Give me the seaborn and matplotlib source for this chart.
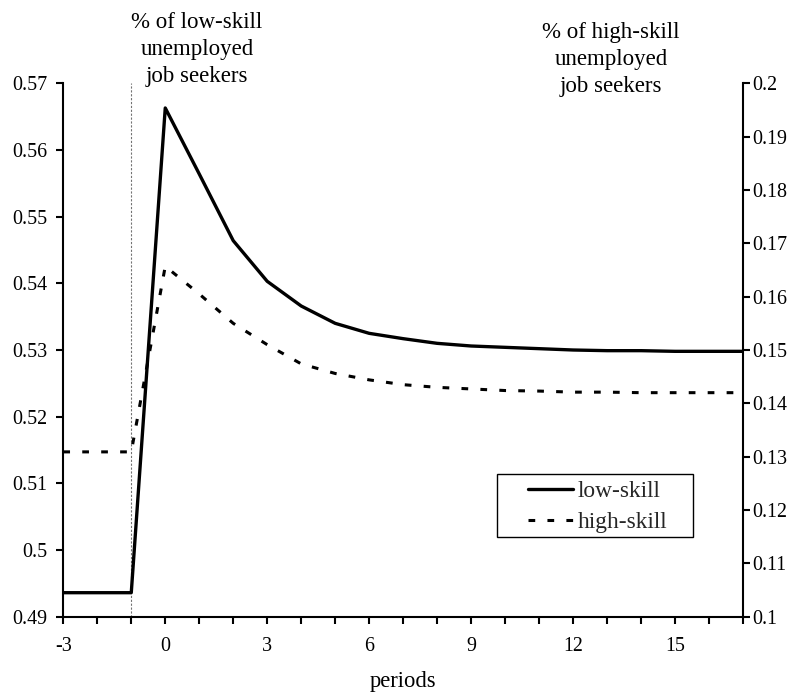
import matplotlib
matplotlib.use("Agg")
import matplotlib.pyplot as plt
import seaborn as sns
import pandas as pd
from matplotlib.patches import Rectangle
from matplotlib.ticker import FuncFormatter

# ---- data ----
periods = list(range(-3, 18))
low_skill = [0.4936, 0.4936, 0.4936, 0.5663, 0.5564, 0.5464, 0.5403, 0.5366,
             0.5340, 0.5325, 0.5317, 0.5310, 0.5306, 0.5304, 0.5302, 0.5300,
             0.5299, 0.5299, 0.5298, 0.5298, 0.5298]
high_skill = [0.1309, 0.1309, 0.1309, 0.1657, 0.1605, 0.1550, 0.1510, 0.1474,
              0.1456, 0.1444, 0.1435, 0.1430, 0.1427, 0.1424, 0.1423, 0.1421,
              0.1421, 0.1420, 0.1420, 0.1420, 0.1420]
shock_period = -1
left_ticks = [0.49, 0.50, 0.51, 0.52, 0.53, 0.54, 0.55, 0.56, 0.57]
right_ticks = [0.10, 0.11, 0.12, 0.13, 0.14, 0.15, 0.16, 0.17, 0.18, 0.19, 0.20]
xtick_labels = [str(p) if p % 3 == 0 else "" for p in periods]
left_title = "% of low-skill\nunemployed\njob seekers"
right_title = "% of high-skill\nunemployed\njob seekers"

sns.set_theme(style="white")
plt.rcParams["font.family"] = ["Liberation Serif", "DejaVu Serif"]

W, H = 800, 698
fig = plt.figure(figsize=(W / 100, H / 100), dpi=100)
x0, x1, yb, yt = 63.3, 743.0, 616.7, 83.3
ax = fig.add_axes([x0 / W, 1 - yb / H, (x1 - x0) / W, (yb - yt) / H])

df = pd.DataFrame({"period": periods, "low": low_skill, "high": high_skill})

sns.lineplot(data=df, x="period", y="low", ax=ax, color="black", lw=2.4,
             legend=False)
ax.axvline(shock_period, color="0.45", lw=0.8, ls=(0, (2, 1.5)), zorder=0)

ax2 = ax.twinx()
sns.lineplot(data=df, x="period", y="high", ax=ax2, color="black", lw=2.2,
             legend=False)
ax2.lines[0].set_dashes((2.2, 4.0))

ax.set_xlim(-3, 17)
ax.set_ylim(0.49, 0.57)
ax2.set_ylim(0.10, 0.20)
ax.set_xticks(periods)
ax.set_xticklabels(xtick_labels)
ax.set_yticks(left_ticks)
ax2.set_yticks(right_ticks)
fmt = FuncFormatter(lambda v, p: f"{round(v, 4):g}")
ax.yaxis.set_major_formatter(fmt)
ax2.yaxis.set_major_formatter(fmt)
ax.set_xlabel("periods", fontsize=16.3, labelpad=11.0, color="black")
ax.set_ylabel("")
ax2.set_ylabel("")

for a in (ax, ax2):
    for s in a.spines.values():
        s.set_visible(False)
        s.set_color("black")
        s.set_linewidth(1.5)
ax.spines["left"].set_visible(True)
ax.spines["bottom"].set_visible(True)
ax2.spines["right"].set_visible(True)

ax.tick_params(axis="x", bottom=True, direction="out", length=4.7, width=1.5,
               color="black", labelsize=14.4, labelcolor="black", pad=10)
ax.tick_params(axis="y", left=True, direction="out", length=4.7, width=1.5,
               color="black", labelsize=14.4, labelcolor="black", pad=7)
ax2.tick_params(axis="y", right=True, direction="out", length=4.7, width=1.5,
                color="black", labelsize=14.4, labelcolor="black", pad=2)

# va="baseline" aligns the last line of multi-line text
fig.text(197 / W, 1 - 82 / H, left_title, ha="center", va="baseline",
         fontsize=16.5, color="black", multialignment="center",
         linespacing=1.38)
fig.text(611 / W, 1 - 92 / H, right_title, ha="center", va="baseline",
         fontsize=16.5, color="black", multialignment="center",
         linespacing=1.38)

h1 = ax.lines[0]
h2 = ax2.lines[0]
ax2.legend([h1, h2], ["low-skill", "high-skill"], loc="upper left",
           bbox_to_anchor=(528 / W, 1 - 481 / H), bbox_transform=fig.transFigure,
           frameon=False, borderpad=0, borderaxespad=0, handlelength=1.92,
           handletextpad=0.2, labelspacing=0.42, fontsize=16.8)
fig.add_artist(Rectangle((497 / W, 1 - 537 / H), 196 / W, 63 / H,
                         transform=fig.transFigure, fill=False,
                         edgecolor="black", lw=1.0))

fig.savefig("out.png", dpi=100, facecolor="white")
